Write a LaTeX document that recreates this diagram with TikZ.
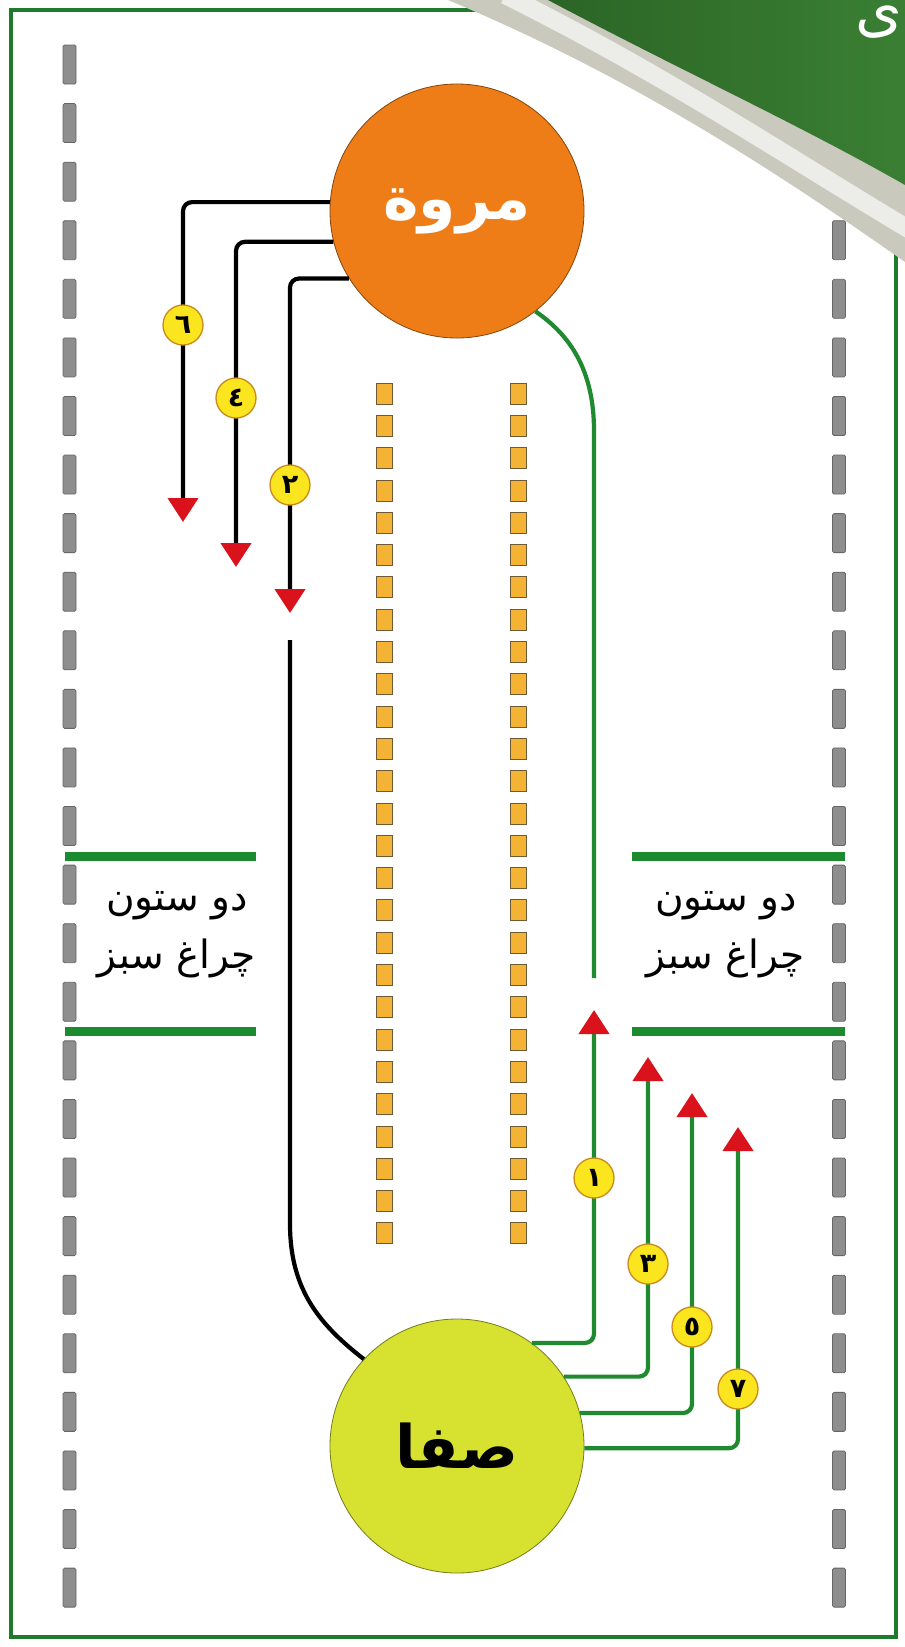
\documentclass[tikz,border=0pt]{standalone}
\usepackage{fontspec}
\usetikzlibrary{arrows.meta,calc}
\TeXXeTstate=1
\newfontfamily\arabicfont[Script=Arabic]{DejaVu Sans}
\definecolor{framegreen}{HTML}{1E7B2E}
\definecolor{pathgreen}{HTML}{1F8A30}
\definecolor{lampgreen}{HTML}{1C8A2E}
\definecolor{marwaorange}{HTML}{EE7D17}
\definecolor{safayellow}{HTML}{D6E130}
\definecolor{badgeyellow}{HTML}{FBE51F}
\definecolor{badgeedge}{HTML}{C98A1C}
\definecolor{arrowred}{HTML}{D9121B}
\definecolor{dashgray}{HTML}{8E8E8E}
\definecolor{pillarfill}{HTML}{F4B334}
\definecolor{pillaredge}{HTML}{6E5B36}
\definecolor{bannergreen}{HTML}{2B6526}
\definecolor{bannerlight}{HTML}{3A7F33}
\definecolor{silverband}{HTML}{C9CABD}
\begin{document}
\begin{tikzpicture}[x=1pt,y=-1pt,
  station/.style={circle,minimum size=254pt,inner sep=0pt,fill=#1,draw=#1!55!black,line width=0.8pt},
  badge/.style={circle,minimum size=40pt,inner sep=0pt,fill=badgeyellow,draw=badgeedge,line width=1.3pt,font=\arabicfont\bfseries\fontsize{27}{27}\selectfont},
  walkblack/.style={line width=4.2pt,black,rounded corners=9pt},
  walkgreen/.style={line width=4.2pt,pathgreen,rounded corners=9pt},
  redtip/.style={-{Triangle[width=30pt,length=24pt,color=arrowred]}},
  lamp/.style={line width=9pt,lampgreen},
  pillarlabel/.style={font=\arabicfont\fontsize{39}{58}\selectfont,align=center},
  dashbox/.style={fill=dashgray,draw=black!60,line width=0.8pt,rounded corners=1.5pt},
  pillar/.style={fill=pillarfill,draw=pillaredge,line width=0.8pt}
]
\useasboundingbox (0,0) rectangle (905,1647);
\fill[white] (0,0) rectangle (905,1647);

% side dashes
\foreach \i in {0,...,26}{
  \pgfmathsetmacro\yy{45+58.58*\i}
  \draw[dashbox] (63,\yy) rectangle (76,\yy+39);
  \ifnum\i>2 \draw[dashbox] (832.5,\yy) rectangle (845.5,\yy+39); \fi
}
% pillars
\foreach \i in {0,...,26}{
  \pgfmathsetmacro\yy{383+32.3*\i}
  \draw[pillar] (376,\yy) rectangle (392,\yy+21);
  \draw[pillar] (510.5,\yy) rectangle (526.5,\yy+21);
}
% green lamps
\draw[lamp] (65,856) -- (256,856);
\draw[lamp] (65,1031) -- (256,1031);
\draw[lamp] (632,856) -- (845,856);
\draw[lamp] (632,1031) -- (845,1031);
\node[pillarlabel] (lblL) at (177,935) {\beginR دو ستون\endR\\\beginR چراغ سبز\endR};
\node[pillarlabel] (lblR) at (726,935) {\beginR دو ستون\endR\\\beginR چراغ سبز\endR};

% stations
\node[station=marwaorange,text=white,font=\arabicfont\bfseries\fontsize{60}{60}\selectfont] (marwa) at (457,211) {\beginR مروة\endR};
\node[station=safayellow,text=black,font=\arabicfont\bfseries\fontsize{60}{60}\selectfont] (safa) at (457,1446) {\beginR صفا\endR};

% walks from Marwa
\draw[walkblack,redtip] (marwa.176) -| (183,522);
\draw[walkblack,redtip] (marwa.194) -| (236,567);
\draw[walkblack,redtip] (marwa.212) -| (290,613);
\coordinate (ret2) at (290,640);
\draw[walkblack] (ret2) -- (290,1215) .. controls (290,1290) and (320,1325) .. (safa.137);

% walks from Safa
\draw[walkgreen,redtip] (safa.54) -| (594,1010);
\draw[walkgreen,redtip] (safa.33) -| (648,1057);
\draw[walkgreen,redtip] (safa.15) -| (692,1093);
\draw[walkgreen,redtip] (safa.-1) -| (738,1127);
\coordinate (ret1) at (594,978);
\draw[walkgreen] (ret1) -- (594,440) .. controls (594,370) and (570,335) .. (marwa.-52);

% badges
\node[badge] (b6) at (183,325) {٦};
\node[badge] (b4) at (236,398) {٤};
\node[badge] (b2) at (290,485) {٢};
\node[badge] (b1) at (594,1178) {١};
\node[badge] (b3) at (648,1264) {٣};
\node[badge] (b5) at (692,1327) {٥};
\node[badge] (b7) at (738,1389) {٧};

% frame
\draw[framegreen,line width=4.5pt] (11,10) rectangle (896,1637);

% corner banner
\fill[silverband] (448,0) .. controls (620,72) and (760,160) .. (905,262) -- (905,0) -- cycle;
\draw[white!65!silverband,line width=18pt] (505,-5) .. controls (660,72) and (780,152) .. (910,230);
\shade[left color=bannergreen,right color=bannerlight] (548,0) .. controls (680,70) and (800,125) .. (905,185) -- (905,0) -- cycle;
\begin{scope}
\clip (0,0) rectangle (905,1647);
\node[text=white,font=\arabicfont\fontsize{60}{60}\selectfont,anchor=south west] (title) at (852,42) {ی};
\end{scope}
\end{tikzpicture}
\end{document}
